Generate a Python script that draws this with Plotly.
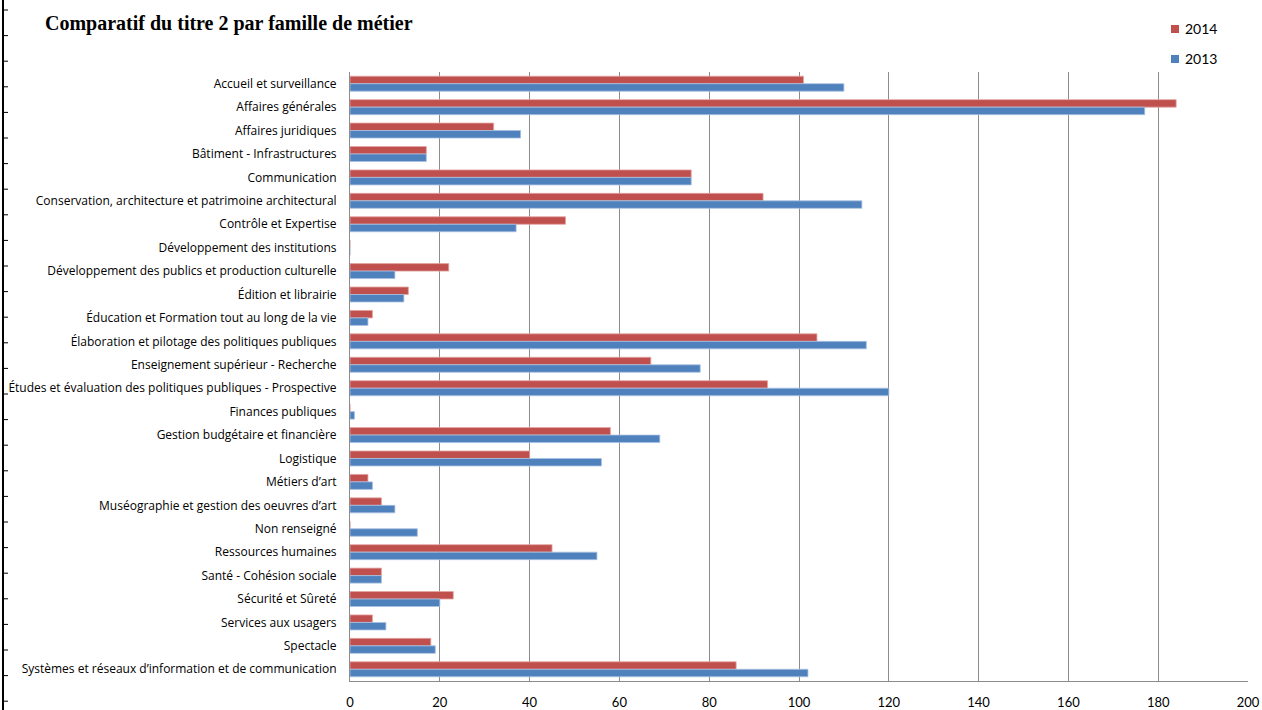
import plotly.graph_objects as go

categories = [
    "Accueil et surveillance",
    "Affaires générales",
    "Affaires juridiques",
    "Bâtiment - Infrastructures",
    "Communication",
    "Conservation, architecture et patrimoine architectural",
    "Contrôle et Expertise",
    "Développement des institutions",
    "Développement des publics et production culturelle",
    "Édition et librairie",
    "Éducation et Formation tout au long de la vie",
    "Élaboration et pilotage des politiques publiques",
    "Enseignement supérieur - Recherche",
    "Études et évaluation des politiques publiques - Prospective",
    "Finances publiques",
    "Gestion budgétaire et financière",
    "Logistique",
    "Métiers d’art",
    "Muséographie et gestion des oeuvres d’art",
    "Non renseigné",
    "Ressources humaines",
    "Santé - Cohésion sociale",
    "Sécurité et Sûreté",
    "Services aux usagers",
    "Spectacle",
    "Systèmes et réseaux d’information et de communication",
]

values_2014 = [101, 184, 32, 17, 76, 92, 48, 0, 22, 13, 5, 104, 67, 93, 0, 58, 40, 4, 7, 0, 45, 7, 23, 5, 18, 86]
values_2013 = [110, 177, 38, 17, 76, 114, 37, 0, 10, 12, 4, 115, 78, 120, 1, 69, 56, 5, 10, 15, 55, 7, 20, 8, 19, 102]

x_ticks = [0, 20, 40, 60, 80, 100, 120, 140, 160, 180, 200]

series_names = ["2014", "2013"]
series_colors = ["#C0504D", "#4F81BD"]
series_edges = ["#E3A5A3", "#A9C2E2"]

W, H = 1262, 710
ML, MR, MT, MB = 350, 14, 72, 29
PW, PH = W - ML - MR, H - MT - MB

label_font = "'Open Sans', Lato, sans-serif"
tick_font = "Lato, 'Open Sans', sans-serif"


def px_x(x):
    return (x - ML) / PW


def px_y(y):
    return 1 - (y - MT) / PH


fig = go.Figure()
for name, vals, col, edge in zip(series_names, [values_2014, values_2013], series_colors, series_edges):
    fig.add_trace(go.Bar(
        name=name, y=categories, x=vals, orientation="h",
        marker=dict(color=col, line=dict(color=edge, width=0.8)),
        showlegend=False,
    ))

# page border decoration on the far left (spreadsheet cell edge)
bx = px_x(3)
shapes = [dict(type="line", xref="paper", yref="paper", x0=bx, x1=bx,
               y0=px_y(H + 2), y1=px_y(-2), line=dict(color="black", width=2))]
yy = 10
while yy < H:
    shapes.append(dict(type="line", xref="paper", yref="paper", x0=bx, x1=px_x(8),
                       y0=px_y(yy), y1=px_y(yy), line=dict(color="black", width=1)))
    yy += 25.6

# legend drawn manually (squares + labels)
annotations = []
for i, (name, col) in enumerate(zip(series_names, series_colors)):
    cy = 29 + 30 * i
    shapes.append(dict(type="rect", xref="paper", yref="paper",
                       x0=px_x(1171), x1=px_x(1179), y0=px_y(cy + 4), y1=px_y(cy - 4),
                       fillcolor=col, line=dict(width=0)))
    annotations.append(dict(text=name, xref="paper", yref="paper", x=px_x(1183), y=px_y(cy),
                            xanchor="left", yanchor="middle", showarrow=False,
                            font=dict(family=tick_font, size=14, color="black")))

fig.update_layout(
    width=W, height=H,
    margin=dict(l=ML, r=MR, t=MT, b=MB, autoexpand=False),
    paper_bgcolor="white", plot_bgcolor="white",
    barmode="group", bargap=0.36, bargroupgap=0,
    showlegend=False,
    title=dict(text="<b>Comparatif du titre 2 par famille de métier</b>",
               x=45 / W, xanchor="left", y=1 - 23 / H, yanchor="middle",
               font=dict(family="'Liberation Serif', 'Times New Roman', serif", size=20, color="black")),
    xaxis=dict(range=[0, 200], tickvals=x_ticks, showgrid=True, gridcolor="#8C8C8C", gridwidth=1,
               showline=True, linecolor="#8C8C8C", linewidth=1, zeroline=False,
               ticks="outside", ticklen=9, tickcolor="rgba(0,0,0,0)",
               tickfont=dict(family=tick_font, size=13, color="black")),
    yaxis=dict(autorange="reversed", showline=True, linecolor="#8C8C8C", linewidth=1,
               ticks="outside", ticklen=10, tickcolor="rgba(0,0,0,0)", showgrid=False,
               tickfont=dict(family=label_font, size=12, color="black")),
    shapes=shapes,
    annotations=annotations,
)

fig.write_html("out.html", config={"displayModeBar": False},
               post_script="document.body.style.margin='0';document.body.style.padding='0';")
